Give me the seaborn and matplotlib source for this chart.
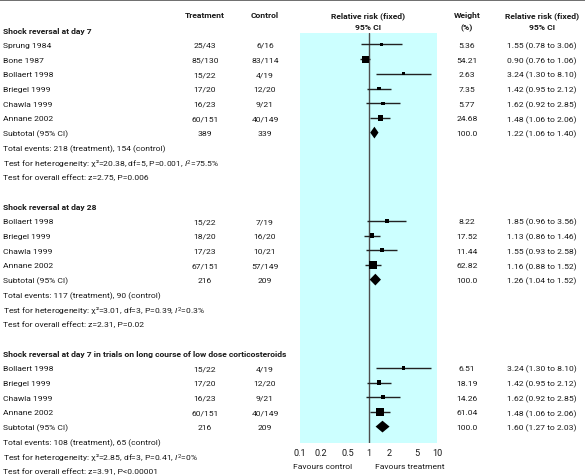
import numpy as np
import matplotlib
matplotlib.use("Agg")
import matplotlib.pyplot as plt
import matplotlib.transforms as mtransforms
import seaborn as sns

# ---- data ----
sec_titles = ["Shock reversal at day 7",
              "Shock reversal at day 28",
              "Shock reversal at day 7 in trials on long course of low dose corticosteroids"]

sec1_studies = ["Sprung 1984", "Bone 1987", "Bollaert 1998", "Briegel 1999", "Chawla 1999", "Annane 2002"]
sec1_treat = ["25/43", "85/130", "15/22", "17/20", "16/23", "60/151"]
sec1_ctrl = ["6/16", "83/114", "4/19", "12/20", "9/21", "40/149"]
sec1_weight = [5.36, 54.21, 2.63, 7.35, 5.77, 24.68]
sec1_rr = [1.55, 0.90, 3.24, 1.42, 1.62, 1.48]
sec1_lo = [0.78, 0.76, 1.30, 0.95, 0.92, 1.06]
sec1_hi = [3.06, 1.06, 8.10, 2.12, 2.85, 2.06]

sec2_studies = ["Bollaert 1998", "Briegel 1999", "Chawla 1999", "Annane 2002"]
sec2_treat = ["15/22", "18/20", "17/23", "67/151"]
sec2_ctrl = ["7/19", "16/20", "10/21", "57/149"]
sec2_weight = [8.22, 17.52, 11.44, 62.82]
sec2_rr = [1.85, 1.13, 1.55, 1.16]
sec2_lo = [0.96, 0.86, 0.93, 0.88]
sec2_hi = [3.56, 1.46, 2.58, 1.52]

sec3_studies = ["Bollaert 1998", "Briegel 1999", "Chawla 1999", "Annane 2002"]
sec3_treat = ["15/22", "17/20", "16/23", "60/151"]
sec3_ctrl = ["4/19", "12/20", "9/21", "40/149"]
sec3_weight = [6.51, 18.19, 14.26, 61.04]
sec3_rr = [3.24, 1.42, 1.62, 1.48]
sec3_lo = [1.30, 0.95, 0.92, 1.06]
sec3_hi = [8.10, 2.12, 2.85, 2.06]

sub_treat = ["389", "216", "216"]
sub_ctrl = ["339", "209", "209"]
sub_rr = [1.22, 1.26, 1.60]
sub_lo = [1.06, 1.04, 1.27]
sub_hi = [1.40, 1.52, 2.03]

total_events = ["Total events: 218 (treatment), 154 (control)",
                "Total events: 117 (treatment), 90 (control)",
                "Total events: 108 (treatment), 65 (control)"]
heterogeneity = [("20.38", "5", "0.001", "75.5%"),
                 ("3.01", "3", "0.39", "0.3%"),
                 ("2.85", "3", "0.41", "0%")]
overall = ["Test for overall effect: z=2.75, P=0.006",
           "Test for overall effect: z=2.31, P=0.02",
           "Test for overall effect: z=3.91, P<0.00001"]

tick_vals = [0.1, 0.2, 0.5, 1, 2, 5, 10]
tick_labels = ["0.1", "0.2", "0.5", "1", "2", "5", "10"]

sections = [
    (sec1_studies, sec1_treat, sec1_ctrl, sec1_weight, sec1_rr, sec1_lo, sec1_hi),
    (sec2_studies, sec2_treat, sec2_ctrl, sec2_weight, sec2_rr, sec2_lo, sec2_hi),
    (sec3_studies, sec3_treat, sec3_ctrl, sec3_weight, sec3_rr, sec3_lo, sec3_hi),
]

# ---- style ----
sns.set_theme(style="white")
plt.rcParams["font.family"] = ["Roboto", "DejaVu Sans"]
plt.rcParams["mathtext.fontset"] = "custom"
plt.rcParams["mathtext.it"] = "Roboto:italic"
plt.rcParams["mathtext.rm"] = "Roboto"
FS = 6.1
INK = "#1a1a1a"

W, H = 585, 477
ROW0, ROWH = 16.0, 14.7


def row_of(px):
    return (px - ROW0) / ROWH


def fx(px):
    return px / W


fig = plt.figure(figsize=(W / 100, H / 100), dpi=100)
fig.add_artist(plt.Line2D([0, 1], [1 - 0.8 / H, 1 - 0.8 / H], color="#555555", lw=1.2))

ax = fig.add_axes([fx(300), (H - 444) / H, 137 / W, 410 / H])
ax.set_facecolor("#ccffff")
ax.set_xscale("log")
ax.set_xlim(0.1, 10)
ax.set_ylim(row_of(444), row_of(34))
for s in ax.spines.values():
    s.set_visible(False)
ax.set_xticks(tick_vals)
ax.set_xticklabels(tick_labels)
ax.minorticks_off()
ax.tick_params(axis="x", length=0, pad=3.5, labelsize=FS + 0.5, colors=INK)
ax.set_yticks([])
ax.axvline(1, color="#4d4d4d", lw=1.0, zorder=2)

tr = mtransforms.blended_transform_factory(fig.transFigure, ax.transData)


def put(px, row, s, ha="center", bold=False):
    ax.text(fx(px), row, s, transform=tr, ha=ha, va="center_baseline", fontsize=FS,
            fontweight="bold" if bold else "normal", color=INK)


# column headers
put(205, row_of(15), "Treatment", bold=True)
put(265, row_of(15), "Control", bold=True)
put(368.5, row_of(15), "Relative risk (fixed)", bold=True)
put(368.5, row_of(27), "95% CI", bold=True)
put(467, row_of(15), "Weight", bold=True)
put(467, row_of(27), "(%)", bold=True)
put(542, row_of(15), "Relative risk (fixed)", bold=True)
put(542, row_of(27), "95% CI", bold=True)

row = 1
for i, (studies, treat, ctrl, weight, rr, lo, hi) in enumerate(sections):
    put(3, row, sec_titles[i], ha="left", bold=True)
    rows = list(range(row + 1, row + 1 + len(studies)))
    for r, st, t, c, w, e, l, h in zip(rows, studies, treat, ctrl, weight, rr, lo, hi):
        put(3, r, st, ha="left")
        put(205, r, t)
        put(265, r, c)
        put(467, r, f"{w:.2f}")
        put(542, r, f"{e:.2f} ({l:.2f} to {h:.2f})")
    # confidence intervals and weighted squares
    ax.hlines(rows, lo, hi, color="#222222", lw=1.0, zorder=3)
    side = (1.5 + 0.75 * np.sqrt(weight)) * 0.72
    sns.scatterplot(x=rr, y=rows, s=side ** 2, marker="s", color="black",
                    linewidth=0, ax=ax, zorder=4, legend=False)
    # pooled estimate diamond
    r_sub = rows[-1] + 1
    put(3, r_sub, "Subtotal (95% CI)", ha="left")
    put(205, r_sub, sub_treat[i])
    put(265, r_sub, sub_ctrl[i])
    put(467, r_sub, "100.0")
    put(542, r_sub, f"{sub_rr[i]:.2f} ({sub_lo[i]:.2f} to {sub_hi[i]:.2f})")
    hh = 0.4
    ax.fill([sub_lo[i], sub_rr[i], sub_hi[i], sub_rr[i]],
            [r_sub, r_sub - hh, r_sub, r_sub + hh], color="black", lw=0, zorder=4)
    chi, df, p, i2 = heterogeneity[i]
    put(3, r_sub + 1, total_events[i], ha="left")
    put(3, r_sub + 2, "Test for heterogeneity: \u03c7\u00b2=" + chi + ", df=" + df +
        ", P=" + p + ", $I^2$=" + i2, ha="left")
    put(3, r_sub + 3, overall[i], ha="left")
    row = r_sub + 5

ax.set_xlabel("")
ax.set_ylabel("")
put(323, row_of(467), "Favours control")
put(409.5, row_of(467), "Favours treatment")

fig.savefig("out.png", dpi=100)
